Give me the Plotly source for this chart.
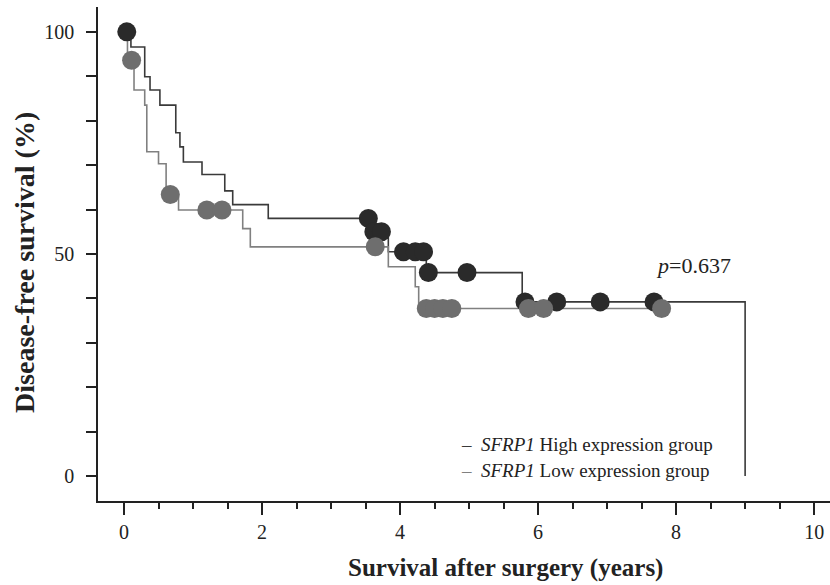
import plotly.graph_objects as go

# Kaplan-Meier step data (time in years, survival %)
high_times = [0, 0.10, 0.30, 0.377, 0.52, 0.75, 0.81, 0.86, 1.13, 1.46, 1.575, 2.09, 3.58, 3.83, 4.38, 5.77, 9.0]
high_surv = [100, 96.6, 89.9, 86.9, 83.5, 77.3, 74.1, 70.7, 67.9, 64.2, 61.1, 58.0, 55.0, 50.5, 45.8, 39.2, 0]
high_cens_t = [0.04, 3.54, 3.62, 3.73, 4.05, 4.22, 4.34, 4.41, 4.97, 5.81, 6.27, 6.90, 7.68]
high_cens_s = [100, 58.0, 55.0, 55.0, 50.5, 50.5, 50.5, 45.8, 45.8, 39.2, 39.2, 39.2, 39.2]

low_times = [0, 0.05, 0.145, 0.30, 0.33, 0.50, 0.61, 0.79, 1.72, 1.83, 3.83, 4.22, 4.27, 7.79]
low_surv = [100, 93.6, 86.9, 83.5, 73.0, 70.3, 63.4, 59.9, 55.7, 51.6, 47.1, 42.6, 37.7, 37.7]
low_cens_t = [0.11, 0.67, 1.20, 1.42, 3.64, 4.38, 4.50, 4.62, 4.75, 5.86, 6.08, 7.79]
low_cens_s = [93.6, 63.4, 59.9, 59.9, 51.6, 37.7, 37.7, 37.7, 37.7, 37.7, 37.7, 37.7]

x_ticks = [0, 2, 4, 6, 8, 10]
y_ticks = [0, 50, 100]

series_names = ["<i>SFRP1</i> High expression group", "<i>SFRP1</i> Low expression group"]
p_text = "<i>p</i>=0.637"
x_title = "Survival after surgery (years)"
y_title = "Disease-free survival (%)"

DARK_LINE = "#3a3a3a"
GREY_LINE = "#808080"
DARK_MK = "#2a2a2a"
GREY_MK = "#6e6e6e"
FONT = "Liberation Serif, Times New Roman, serif"
TXT = "#222222"

fig = go.Figure()
fig.add_trace(go.Scatter(x=high_times, y=high_surv, mode="lines", line=dict(color=DARK_LINE, width=1.6, shape="hv"),
                         showlegend=False, hoverinfo="skip"))
fig.add_trace(go.Scatter(x=low_times, y=low_surv, mode="lines", line=dict(color=GREY_LINE, width=1.6, shape="hv"),
                         showlegend=False, hoverinfo="skip"))
fig.add_trace(go.Scatter(x=high_cens_t, y=high_cens_s, mode="markers",
                         marker=dict(color=DARK_MK, size=19, line=dict(width=0)), showlegend=False))
fig.add_trace(go.Scatter(x=low_cens_t, y=low_cens_s, mode="markers",
                         marker=dict(color=GREY_MK, size=19, line=dict(width=0)), showlegend=False))

# legend as annotations
fig.add_annotation(x=4.86, y=7.0, xref="x", yref="y", xanchor="left", yanchor="middle", showarrow=False,
                   text=f"<span style='color:{DARK_LINE}'>–</span>  " + series_names[0],
                   font=dict(family=FONT, size=19, color=TXT))
fig.add_annotation(x=4.86, y=1.35, xref="x", yref="y", xanchor="left", yanchor="middle", showarrow=False,
                   text=f"<span style='color:{GREY_LINE}'>–</span>  " + series_names[1],
                   font=dict(family=FONT, size=19, color=TXT))
fig.add_annotation(x=8.25, y=47.5, xref="x", yref="y", xanchor="center", yanchor="middle", showarrow=False,
                   text=p_text, font=dict(family=FONT, size=22, color=TXT))

# axis titles
fig.add_annotation(x=0.557, y=-0.1356, xref="paper", yref="paper", xanchor="center", yanchor="middle",
                   showarrow=False, text=f"<b>{x_title}</b>", font=dict(family=FONT, size=25, color=TXT))
fig.add_annotation(x=-0.0997, y=0.482, xref="paper", yref="paper", xanchor="center", yanchor="middle",
                   showarrow=False, textangle=-90, text=f"<b>{y_title}</b>", font=dict(family=FONT, size=28, color=TXT))

fig.update_layout(
    width=830, height=585,
    margin=dict(l=98, r=0, t=7, b=84),
    paper_bgcolor="white", plot_bgcolor="white",
    font=dict(family=FONT, color=TXT, size=20),
    xaxis=dict(range=[-0.377, 10.23], tickvals=x_ticks, ticktext=[str(v) for v in x_ticks],
               showgrid=False, zeroline=False, showline=True, linecolor="#222", linewidth=1.5,
               ticks="outside", ticklen=12, tickwidth=1.5, tickcolor="#222",
               minor=dict(dtick=0.5, ticks="outside", ticklen=6, tickwidth=1.5, tickcolor="#222", showgrid=False),
               tickfont=dict(family=FONT, size=20, color=TXT), fixedrange=True, automargin=False),
    yaxis=dict(range=[-5.63, 105.6], tickvals=y_ticks, ticktext=[str(v) for v in y_ticks],
               showgrid=False, zeroline=False, showline=True, linecolor="#222", linewidth=1.5,
               ticks="outside", ticklen=10, tickwidth=1.5, tickcolor="#222", ticklabelstandoff=8,
               minor=dict(dtick=10, ticks="outside", ticklen=10, tickwidth=1.5, tickcolor="#222", showgrid=False),
               tickfont=dict(family=FONT, size=20, color=TXT), fixedrange=True, automargin=False),
)

fig.write_html("out.html", config={"displayModeBar": False},
               post_script="document.body.style.margin='0';document.body.style.padding='0';")
